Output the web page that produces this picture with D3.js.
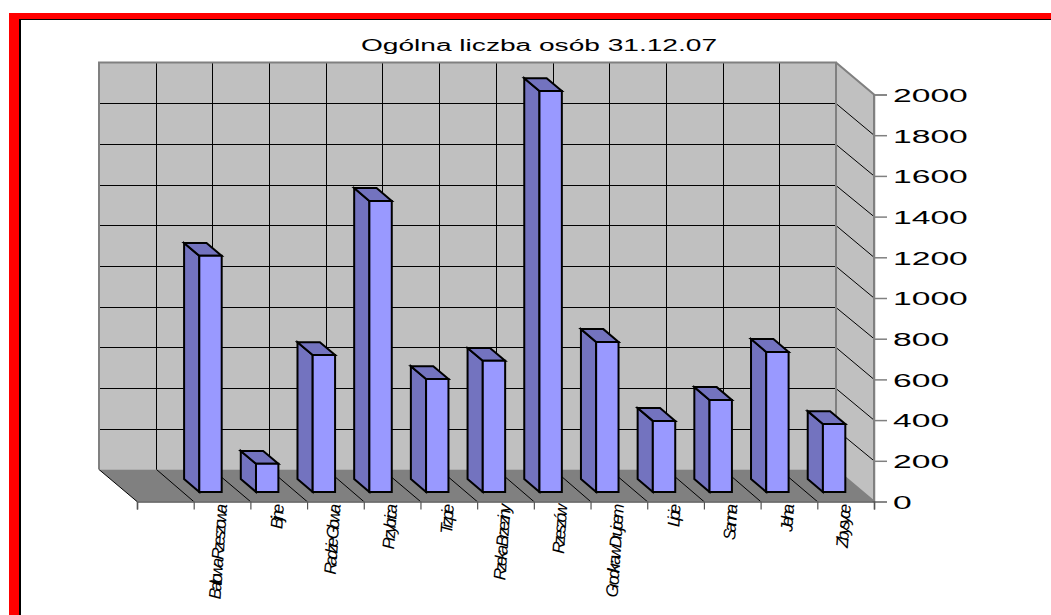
<!DOCTYPE html>
<html>
<head>
<meta charset="utf-8">
<script src="https://cdn.jsdelivr.net/npm/d3@7"></script>
<style>
  html, body { margin: 0; padding: 0; background: #fff; overflow: hidden; }
  svg { display: block; }
  text { font-family: "Liberation Sans", Arial, sans-serif; fill: #000; }
</style>
</head>
<body>
<script>
// values
var title = "Ogólna liczba osób 31.12.07";
var categories = ["Bałtowa Rzeszowa", "Bijne", "Radzie Głowa", "Przybrica", "Trzpie", "Rzeka Brzeziny",
                  "Rzeszów", "Grodkraw Drujcem", "Lipie", "Sanna", "Jelna", "Zbysyce"];
var values = [1160, 138, 673, 1430, 555, 644, 1970, 737, 349, 452, 688, 334];
var yTicks = [0, 200, 400, 600, 800, 1000, 1200, 1400, 1600, 1800, 2000];

var width = 1051, height = 615;
var svg = d3.select("body").append("svg").attr("width", width).attr("height", height);

// front plane scales, first slot on the left stays empty
var x = d3.scaleLinear().domain([0, 13]).range([137, 874]);
var y = d3.scaleLinear().domain([0, 2000]).range([501.5, 94.5]);
var depthX = 38, depthY = 32;

// slot position, value, depth (0 front .. 1 back wall)
function proj(i, v, z) {
    return [x(i) - depthX * z, y(v) - depthY * z];
}
var line = d3.line();
function poly(pts) { return line(pts) + "Z"; }

/* frame */
svg.append("rect").attr("x", 9).attr("y", 13).attr("width", width).attr("height", height).attr("fill", "#f00");
svg.append("rect").attr("x", 19).attr("y", 19).attr("width", width).attr("height", height).attr("fill", "#000");
svg.append("rect").attr("x", 21).attr("y", 20).attr("width", width).attr("height", height).attr("fill", "#fff");

svg.append("text").attr("x", 539).attr("y", 51).attr("text-anchor", "middle")
    .attr("font-size", 16).attr("textLength", 356).attr("lengthAdjust", "spacingAndGlyphs")
    .text(title);

/* walls and floor */
var wall = svg.append("g");
wall.append("path").attr("fill", "#c0c0c0")
    .attr("d", poly([proj(0, 0, 1), proj(0, 2000, 1), proj(13, 2000, 1), proj(13, 0, 1)]));
wall.append("path").attr("fill", "#c0c0c0")
    .attr("d", poly([proj(13, 0, 1), proj(13, 2000, 1), proj(13, 2000, 0), proj(13, 0, 0)]));
wall.append("path").attr("fill", "#808080")
    .attr("d", poly([proj(0, 0, 0), proj(0, 0, 1), proj(13, 0, 1), proj(13, 0, 0)]));

/* grid */
var slots = d3.range(14);
var grid = svg.append("g").attr("fill", "none").attr("stroke", "#000").attr("stroke-width", 1);
yTicks.slice(1, -1).forEach(function(v) {
    var a = proj(0, v, 1), b = proj(13, v, 1), r = Math.round(a[1]) + 0.5;
    grid.append("path").attr("d", line([[a[0], r], [b[0], r], proj(13, v, 0)]));
});
slots.slice(1, -1).forEach(function(i) {
    var a = proj(i, 2000, 1), b = proj(i, 0, 1), r = Math.round(a[0]) + 0.5;
    grid.append("path").attr("d", line([[r, a[1]], [r, b[1]], proj(i, 0, 0)]));
});
grid.append("path").attr("d", line([proj(0, 0, 1), proj(0, 0, 0)]));

// wall outline
svg.append("path").attr("fill", "none").attr("stroke", "#808080").attr("stroke-width", 2)
    .attr("d", line([proj(0, 0, 1), proj(0, 2000, 1), proj(13, 2000, 1), proj(13, 0, 1), proj(13, 0, 0)])
             + line([proj(13, 2000, 1), proj(13, 2000, 0), proj(13, 0, 0)]));

/* bars */
var left = 0.3, right = 0.695, zFront = 0.3, zBack = 0.7;
var bars = svg.append("g").selectAll("g").data(values).enter().append("g")
    .attr("stroke", "#000").attr("stroke-width", 2).attr("stroke-linejoin", "miter");
bars.append("path").attr("fill", "#7373bf").attr("d", function(d, i) {
    var s = i + 1;
    return poly([proj(s + left, 0, zFront), proj(s + left, 0, zBack), proj(s + left, d, zBack), proj(s + left, d, zFront)]);
});
bars.append("path").attr("fill", "#7373bf").attr("d", function(d, i) {
    var s = i + 1;
    return poly([proj(s + left, d, zFront), proj(s + left, d, zBack), proj(s + right, d, zBack), proj(s + right, d, zFront)]);
});
bars.append("path").attr("fill", "#9999ff").attr("d", function(d, i) {
    var s = i + 1;
    return poly([proj(s + left, 0, zFront), proj(s + left, d, zFront), proj(s + right, d, zFront), proj(s + right, 0, zFront)]);
});

/* axes */
var yAxis = d3.axisRight(y).tickValues(yTicks).tickSize(13).tickPadding(0).tickFormat(d3.format("d"));
var yG = svg.append("g").attr("transform", "translate(874,0)").call(yAxis);
yG.select(".domain").attr("stroke", "#808080").attr("stroke-width", 1.5);
yG.selectAll(".tick line").attr("stroke", "#808080").attr("stroke-width", 1.5);
yG.selectAll(".tick text").attr("x", 0).attr("dy", "0.36em")
    .attr("font-size", 19).attr("text-anchor", "start")
    .attr("transform", "translate(19,0) scale(1.77,1)");

var xAxis = d3.axisBottom(x).tickValues(slots).tickSize(8).tickFormat("");
var xG = svg.append("g").attr("transform", "translate(0,501.5)").call(xAxis);
xG.select(".domain").attr("stroke", "#555").attr("stroke-width", 1.5);
xG.selectAll(".tick line").attr("stroke", "#555").attr("stroke-width", 1.2);

/* category labels, rotated and squeezed together */
svg.append("g").selectAll("text").data(categories).enter().append("text")
    .attr("text-anchor", "end").attr("font-size", 17).attr("font-style", "italic")
    .attr("letter-spacing", -3.2)
    .attr("transform", function(d, i) {
        return "translate(" + (x(i + 1.5) - 1) + ",507) rotate(-86)";
    })
    .attr("dy", "0.35em")
    .text(function(d) { return d; });
</script>
</body>
</html>
